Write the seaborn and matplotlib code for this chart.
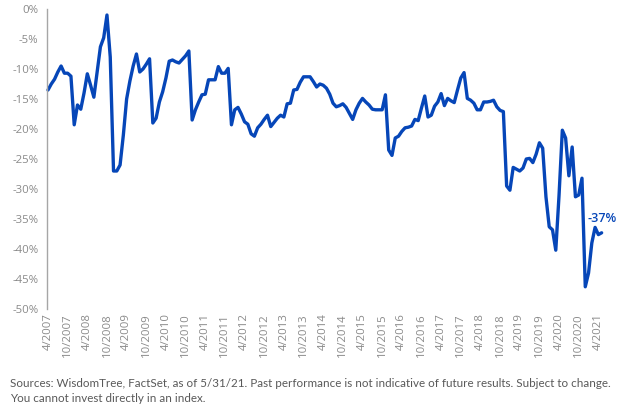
import matplotlib
matplotlib.use("Agg")
import matplotlib.pyplot as plt
import seaborn as sns
import pandas as pd
import numpy as np

# Monthly values, 4/2007 .. 5/2021 (percent)
values = [
    -13.5, -12.5, -11.7, -10.5, -9.5, -10.7, -10.7, -11.2, -19.3, -16.0,
    -16.7, -14.0, -10.8, -12.7, -14.7, -10.5, -6.3, -4.8, -1.0, -8.0,
    -27.0, -27.0, -26.0, -21.0, -15.0, -12.0, -9.5, -7.5, -10.5, -10.0,
    -9.2, -8.3, -19.0, -18.2, -15.5, -13.8, -11.5, -8.7, -8.5, -8.8,
    -9.0, -8.4, -7.8, -7.0, -18.5, -16.8, -15.5, -14.3, -14.2, -11.8,
    -11.8, -11.8, -9.6, -10.7, -10.7, -9.9, -19.3, -16.8, -16.4, -17.5,
    -18.8, -19.2, -20.8, -21.2, -19.8, -19.2, -18.4, -17.7, -19.6, -18.9,
    -18.2, -17.7, -18.0, -15.8, -15.7, -13.5, -13.4, -12.2, -11.3, -11.3,
    -11.3, -12.1, -13.0, -12.5, -12.7, -13.2, -14.2, -15.7, -16.3, -16.1,
    -15.8, -16.4, -17.4, -18.4, -16.8, -15.7, -14.9, -15.5, -16.0, -16.7,
    -16.8, -16.8, -16.8, -14.3, -23.5, -24.4, -21.5, -21.2, -20.4, -19.8,
    -19.7, -19.5, -18.4, -18.6, -16.5, -14.5, -18.0, -17.7, -16.2, -15.5,
    -14.1, -16.1, -14.9, -15.3, -15.6, -13.5, -11.5, -10.6, -14.9, -15.2,
    -15.7, -16.8, -16.8, -15.5, -15.5, -15.4, -15.2, -16.3, -16.9, -17.1,
    -29.5, -30.2, -26.4, -26.7, -27.0, -26.5, -25.0, -24.9, -25.6, -24.2,
    -22.3, -23.2, -31.3, -36.3, -36.8, -40.2, -31.0, -20.2, -21.5, -27.8,
    -23.0, -31.3, -31.0, -28.2, -46.3, -44.0, -39.0, -36.4, -37.6, -37.3,
]
months = list(range(len(values)))
tick_labels = [f"{'4' if i % 2 == 0 else '10'}/{2007 + i // 2}" for i in range(29)]
y_ticks = [0, -5, -10, -15, -20, -25, -30, -35, -40, -45, -50]
end_label = "-37%"
footnote = ("Sources: WisdomTree, FactSet, as of 5/31/21. Past performance is not indicative "
            "of future results. Subject to change.\nYou cannot invest directly in an index.")

df = pd.DataFrame({"month": months, "value": values})

sns.set_style("white")
plt.rcParams["font.family"] = ["Open Sans", "DejaVu Sans"]

W, H = 633, 417
fig = plt.figure(figsize=(W / 100, H / 100), dpi=100)
ax_left, ax_right, ax_top, ax_bottom = 47, 615, 9, 309
ax = fig.add_axes([ax_left / W, 1 - ax_bottom / H, (ax_right - ax_left) / W, (ax_bottom - ax_top) / H])

blue = "#0646b8"
sns.lineplot(data=df, x="month", y="value", ax=ax, color=blue, linewidth=2.4, clip_on=False)

px_per_month = 3.276
ax.set_xlim(-(48 - ax_left) / px_per_month, (ax_right - 48) / px_per_month)
ax.set_ylim(-50, 0)

ax.set_yticks(y_ticks)
ax.set_yticklabels([f"{t}%" for t in y_ticks])
ax.set_xticks(list(range(0, 169, 6)))
ax.set_xticklabels(tick_labels, rotation=90)

grey = "#8a8a8a"
ax.tick_params(axis="y", length=0, pad=6, labelsize=8.2, labelcolor=grey)
ax.tick_params(axis="x", length=0, pad=3, labelsize=8.2, labelcolor=grey)
ax.set_xlabel("")
ax.set_ylabel("")

for s in ["top", "right", "bottom"]:
    ax.spines[s].set_visible(False)
ax.spines["left"].set_color("#a6a6a6")
ax.spines["left"].set_linewidth(1.0)

ax.annotate(end_label, xy=(months[-1], values[-1]), xytext=(0, 10), textcoords="offset points",
            ha="center", va="center", color=blue, fontsize=9, fontweight="semibold")

fig.text(10 / W, 1 - 378 / H, footnote, ha="left", va="top", fontsize=8.35, color="#595959",
         family=["Lato", "DejaVu Sans"], linespacing=1.5)

fig.savefig("out.png", dpi=100)
